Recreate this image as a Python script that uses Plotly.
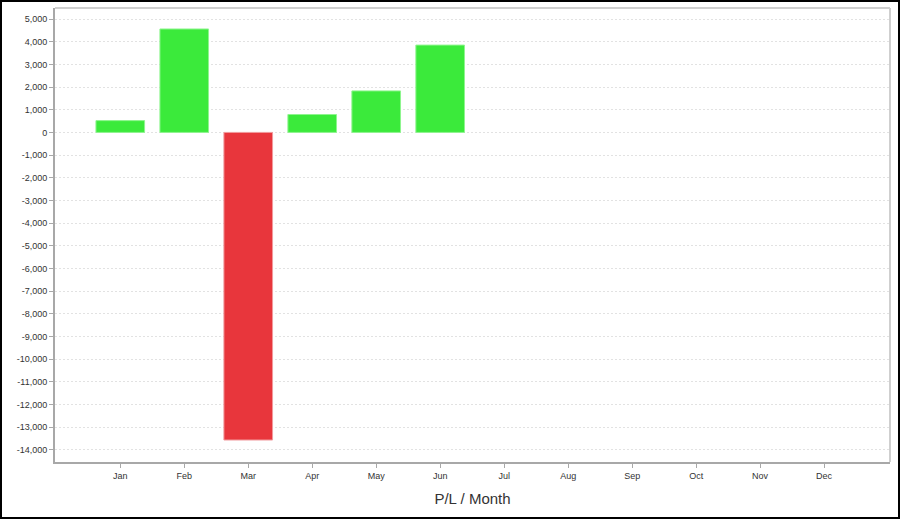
import plotly.graph_objects as go

months = ["Jan", "Feb", "Mar", "Apr", "May", "Jun", "Jul", "Aug", "Sep", "Oct", "Nov", "Dec"]
pl_values = [520, 4560, -13560, 790, 1830, 3850, None, None, None, None, None, None]
y_tick_vals = list(range(5000, -14001, -1000))
y_tick_text = [f"{v:,}" for v in y_tick_vals]
x_title = "P/L / Month"

GREEN = "#3bea3b"
RED = "#e8363c"
colors = [(GREEN if (v is not None and v >= 0) else RED) for v in pl_values]
outline = [("#8ff58f" if c == GREEN else "#f29a9d") for c in colors]

W, H = 900, 519
ML, MR, MT, MB = 55, 10, 8, 57
PW, PH = W - ML - MR, H - MT - MB

fig = go.Figure(go.Bar(
    x=list(range(len(months))), y=pl_values, width=0.76,
    marker=dict(color=colors, line=dict(color=outline, width=1)),
    hoverinfo="x+y",
))

def px2paper_x(px):
    return (px - ML) / PW

def px2paper_y(py):
    return (H - MB - py) / PH

fig.update_layout(
    width=W, height=H,
    margin=dict(l=ML, r=MR, t=MT, b=MB),
    paper_bgcolor="white", plot_bgcolor="white",
    showlegend=False,
    font=dict(family="Liberation Sans, Arial, sans-serif", size=9, color="#333333"),
    xaxis=dict(
        tickmode="array", tickvals=list(range(len(months))), ticktext=months,
        range=[-1.02, 12.03], showgrid=False, zeroline=False,
        showline=True, linecolor="#a8a8a8", linewidth=2,
        ticks="outside", ticklen=4, tickcolor="#a8a8a8",
        title=dict(text=x_title, font=dict(size=15, color="#333333"), standoff=14),
        fixedrange=True,
    ),
    yaxis=dict(
        tickmode="array", tickvals=y_tick_vals, ticktext=y_tick_text,
        range=[-14530, 5485], showgrid=True, gridcolor="#e2e2e2", griddash="2px,2px",
        gridwidth=1, zeroline=False,
        showline=True, linecolor="#a8a8a8", linewidth=2,
        ticks="outside", ticklen=4, tickcolor="#a8a8a8",
        fixedrange=True,
    ),
    shapes=[
        dict(type="line", xref="paper", yref="paper", x0=0, x1=1, y0=1, y1=1,
             line=dict(color="#cfcfcf", width=2)),
        dict(type="line", xref="paper", yref="paper", x0=1, x1=1, y0=0, y1=1,
             line=dict(color="#cfcfcf", width=2)),
        dict(type="rect", xref="paper", yref="paper",
             x0=px2paper_x(1), x1=px2paper_x(899), y0=px2paper_y(1), y1=px2paper_y(518),
             line=dict(color="black", width=2), fillcolor="rgba(0,0,0,0)", layer="above"),
    ],
)

fig.write_html(
    "out.html",
    config={"displayModeBar": False},
    post_script="document.body.style.margin='0';document.body.style.overflow='hidden';",
)
